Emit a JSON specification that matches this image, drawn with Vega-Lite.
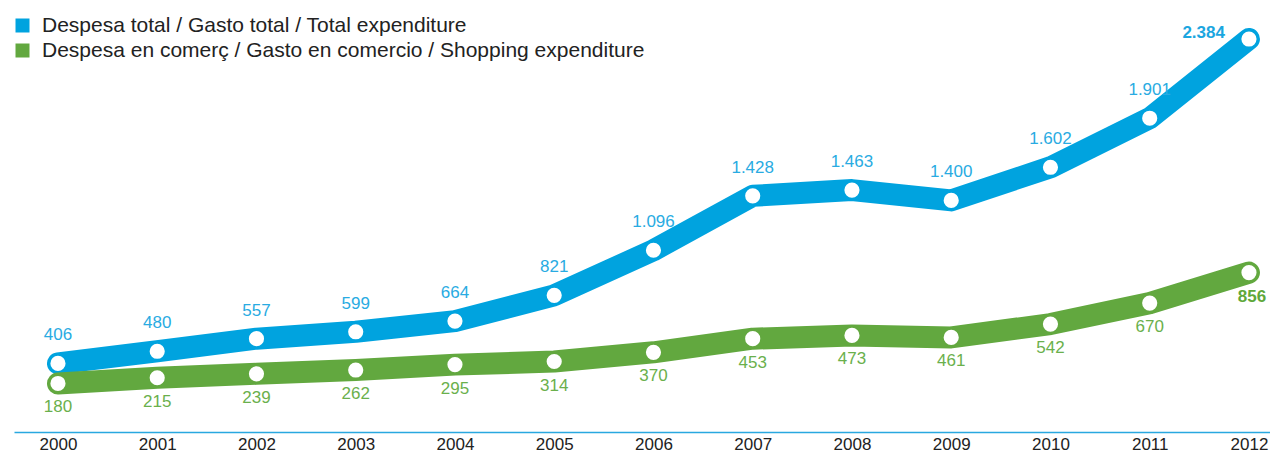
{
  "$schema": "https://vega.github.io/schema/vega-lite/v6.json",
  "autosize": {"type": "none"},
  "width": 1256,
  "height": 410,
  "padding": {"left": 14, "top": 20, "right": 0, "bottom": 24},
  "background": "white",
  "config": {
    "view": {"stroke": null},
    "font": "Liberation Sans",
    "locale": {"number": {"decimal": ",", "thousands": ".", "grouping": [3], "currency": ["", "€"]}}
  },
  "data": {"values": [
    {"year": 2000, "s": "Despesa total / Gasto total / Total expenditure", "k": "total", "v": 406},
    {"year": 2001, "s": "Despesa total / Gasto total / Total expenditure", "k": "total", "v": 480},
    {"year": 2002, "s": "Despesa total / Gasto total / Total expenditure", "k": "total", "v": 557},
    {"year": 2003, "s": "Despesa total / Gasto total / Total expenditure", "k": "total", "v": 599},
    {"year": 2004, "s": "Despesa total / Gasto total / Total expenditure", "k": "total", "v": 664},
    {"year": 2005, "s": "Despesa total / Gasto total / Total expenditure", "k": "total", "v": 821},
    {"year": 2006, "s": "Despesa total / Gasto total / Total expenditure", "k": "total", "v": 1096},
    {"year": 2007, "s": "Despesa total / Gasto total / Total expenditure", "k": "total", "v": 1428},
    {"year": 2008, "s": "Despesa total / Gasto total / Total expenditure", "k": "total", "v": 1463},
    {"year": 2009, "s": "Despesa total / Gasto total / Total expenditure", "k": "total", "v": 1400},
    {"year": 2010, "s": "Despesa total / Gasto total / Total expenditure", "k": "total", "v": 1602},
    {"year": 2011, "s": "Despesa total / Gasto total / Total expenditure", "k": "total", "v": 1901},
    {"year": 2012, "s": "Despesa total / Gasto total / Total expenditure", "k": "total", "v": 2384},
    {"year": 2000, "s": "Despesa en comerç / Gasto en comercio / Shopping expenditure", "k": "comerc", "v": 180},
    {"year": 2001, "s": "Despesa en comerç / Gasto en comercio / Shopping expenditure", "k": "comerc", "v": 215},
    {"year": 2002, "s": "Despesa en comerç / Gasto en comercio / Shopping expenditure", "k": "comerc", "v": 239},
    {"year": 2003, "s": "Despesa en comerç / Gasto en comercio / Shopping expenditure", "k": "comerc", "v": 262},
    {"year": 2004, "s": "Despesa en comerç / Gasto en comercio / Shopping expenditure", "k": "comerc", "v": 295},
    {"year": 2005, "s": "Despesa en comerç / Gasto en comercio / Shopping expenditure", "k": "comerc", "v": 314},
    {"year": 2006, "s": "Despesa en comerç / Gasto en comercio / Shopping expenditure", "k": "comerc", "v": 370},
    {"year": 2007, "s": "Despesa en comerç / Gasto en comercio / Shopping expenditure", "k": "comerc", "v": 453},
    {"year": 2008, "s": "Despesa en comerç / Gasto en comercio / Shopping expenditure", "k": "comerc", "v": 473},
    {"year": 2009, "s": "Despesa en comerç / Gasto en comercio / Shopping expenditure", "k": "comerc", "v": 461},
    {"year": 2010, "s": "Despesa en comerç / Gasto en comercio / Shopping expenditure", "k": "comerc", "v": 542},
    {"year": 2011, "s": "Despesa en comerç / Gasto en comercio / Shopping expenditure", "k": "comerc", "v": 670},
    {"year": 2012, "s": "Despesa en comerç / Gasto en comercio / Shopping expenditure", "k": "comerc", "v": 856}
  ]},
  "encoding": {
    "x": {"field": "year", "type": "quantitative",
      "scale": {"domain": [1999.557, 2012.212], "nice": false, "zero": false},
      "axis": {"values": [2000,2001,2002,2003,2004,2005,2006,2007,2008,2009,2010,2011,2012],
        "format": "d", "title": null, "grid": false, "ticks": false,
        "domainColor": "#29a8e0", "domainWidth": 1.5, "offset": 2,
        "labelFontSize": 17, "labelColor": "#222222", "labelPadding": 4, "labelFont": "Liberation Sans"}},
    "y": {"field": "v", "type": "quantitative", "scale": {"domain": [0, 2500], "nice": false}, "axis": null}
  },
  "layer": [
    {
      "transform": [{"filter": "datum.k == 'total'"}],
      "mark": {"type": "line", "strokeWidth": 22, "strokeCap": "round", "strokeJoin": "round"},
      "encoding": {
        "color": {"field": "s", "type": "nominal",
          "scale": {"domain": ["Despesa total / Gasto total / Total expenditure", "Despesa en comerç / Gasto en comercio / Shopping expenditure"], "range": ["#00a3df", "#62a83f"]},
          "legend": {"orient": "none", "legendX": -2, "legendY": -5, "title": null,
            "symbolType": "square", "symbolSize": 196, "symbolStrokeWidth": 0,
            "labelFontSize": 21, "labelColor": "#222222", "labelFont": "Liberation Sans", "labelLimit": 0,
            "labelOffset": 9, "rowPadding": 3, "padding": 0,
            "encode": {"symbols": {"update": {"fill": {"scale": "color", "field": "value"}, "strokeWidth": {"value": 0}}}}}}
      }
    },
    {
      "transform": [{"filter": "datum.k == 'comerc'"}],
      "mark": {"type": "line", "strokeWidth": 22, "strokeCap": "round", "strokeJoin": "round", "yOffset": -17},
      "encoding": {"color": {"field": "s", "type": "nominal"}}
    },
    {
      "transform": [{"filter": "datum.k == 'total'"}],
      "mark": {"type": "point", "shape": "circle", "filled": true, "fill": "white", "opacity": 1, "size": 230, "strokeWidth": 0}
    },
    {
      "transform": [{"filter": "datum.k == 'comerc'"}],
      "mark": {"type": "point", "shape": "circle", "filled": true, "fill": "white", "opacity": 1, "size": 230, "strokeWidth": 0, "yOffset": -17}
    },
    {
      "transform": [{"filter": "datum.k == 'total' && datum.year < 2012"}],
      "mark": {"type": "text", "fontSize": 17, "color": "#29abe2", "dy": -28, "font": "Liberation Sans"},
      "encoding": {"text": {"field": "v", "type": "quantitative", "format": ",d"}}
    },
    {
      "transform": [{"filter": "datum.k == 'comerc' && datum.year < 2012"}],
      "mark": {"type": "text", "fontSize": 17, "color": "#6ab04c", "dy": 24, "yOffset": -17, "font": "Liberation Sans"},
      "encoding": {"text": {"field": "v", "type": "quantitative", "format": ",d"}}
    },
    {
      "transform": [{"filter": "datum.k == 'total' && datum.year == 2012"}],
      "mark": {"type": "text", "fontSize": 17, "fontWeight": "bold", "color": "#1ba6e0", "align": "right", "dx": -24, "dy": -6, "font": "Liberation Sans"},
      "encoding": {"text": {"field": "v", "type": "quantitative", "format": ",d"}}
    },
    {
      "transform": [{"filter": "datum.k == 'comerc' && datum.year == 2012"}],
      "mark": {"type": "text", "fontSize": 17, "fontWeight": "bold", "color": "#5fa83a", "dx": 3, "dy": 24, "yOffset": -17, "font": "Liberation Sans"},
      "encoding": {"text": {"field": "v", "type": "quantitative", "format": ",d"}}
    }
  ]
}
